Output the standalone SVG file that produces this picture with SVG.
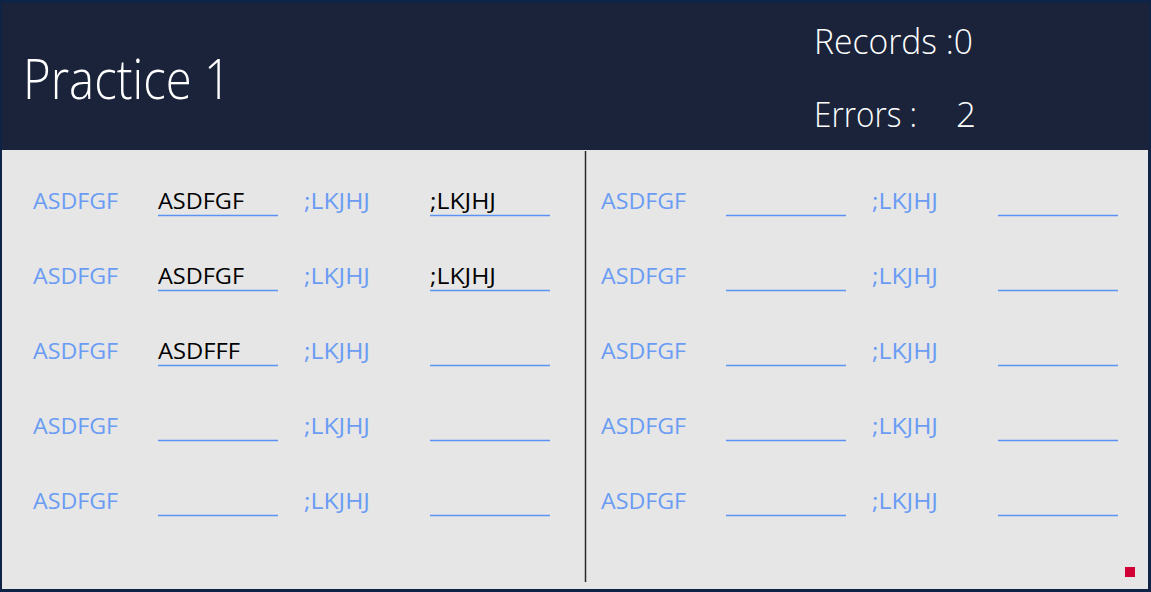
<svg xmlns="http://www.w3.org/2000/svg" width="1151" height="592" viewBox="0 0 1151 592">
<style>
.lbl{font-family:"Open Sans","Noto Sans",sans-serif;font-weight:400;font-size:21px;fill:#6a9cf4}
.val{font-family:"Open Sans","Noto Sans",sans-serif;font-weight:400;font-size:21px;fill:#000}
.hdr{font-family:"Open Sans","Noto Sans",sans-serif;font-weight:300;fill:#fff}
.ul{stroke:#5b93f3;stroke-width:1.3}
</style>
<rect x="0" y="0" width="1151" height="592" fill="#0f2347"/>
<rect x="2" y="3" width="1147" height="147" fill="#1a2339"/>
<rect x="2" y="150" width="1146" height="439" fill="#e6e6e6"/>
<g id="header">
<text class="hdr" x="23" y="99" font-size="56" textLength="208" lengthAdjust="spacingAndGlyphs">Practice 1</text>
<text class="hdr" x="814" y="54" font-size="35" textLength="159" lengthAdjust="spacingAndGlyphs">Records :0</text>
<text class="hdr" x="814" y="127" font-size="35"><tspan textLength="103" lengthAdjust="spacingAndGlyphs">Errors :</tspan><tspan x="956">2</tspan></text>
</g>
<g id="divider"><line x1="585.5" y1="151" x2="585.5" y2="582" stroke="#2b2b2b" stroke-width="1.5"/></g>
<g id="left">
<g id="r1l"><text class="lbl" x="33" y="209" textLength="85" lengthAdjust="spacingAndGlyphs">ASDFGF</text><text class="val" x="158" y="209" textLength="86" lengthAdjust="spacingAndGlyphs">ASDFGF</text><line class="ul" x1="158" y1="215.5" x2="278" y2="215.5"/><text class="lbl" x="304" y="209" textLength="66" lengthAdjust="spacingAndGlyphs">;LKJHJ</text><text class="val" x="430" y="209" textLength="66" lengthAdjust="spacingAndGlyphs">;LKJHJ</text><line class="ul" x1="430" y1="215.5" x2="550" y2="215.5"/></g>
<g id="r2l"><text class="lbl" x="33" y="284" textLength="85" lengthAdjust="spacingAndGlyphs">ASDFGF</text><text class="val" x="158" y="284" textLength="86" lengthAdjust="spacingAndGlyphs">ASDFGF</text><line class="ul" x1="158" y1="290.5" x2="278" y2="290.5"/><text class="lbl" x="304" y="284" textLength="66" lengthAdjust="spacingAndGlyphs">;LKJHJ</text><text class="val" x="430" y="284" textLength="66" lengthAdjust="spacingAndGlyphs">;LKJHJ</text><line class="ul" x1="430" y1="290.5" x2="550" y2="290.5"/></g>
<g id="r3l"><text class="lbl" x="33" y="359" textLength="85" lengthAdjust="spacingAndGlyphs">ASDFGF</text><text class="val" x="158" y="359" textLength="82" lengthAdjust="spacingAndGlyphs">ASDFFF</text><line class="ul" x1="158" y1="365.5" x2="278" y2="365.5"/><text class="lbl" x="304" y="359" textLength="66" lengthAdjust="spacingAndGlyphs">;LKJHJ</text><line class="ul" x1="430" y1="365.5" x2="550" y2="365.5"/></g>
<g id="r4l"><text class="lbl" x="33" y="434" textLength="85" lengthAdjust="spacingAndGlyphs">ASDFGF</text><line class="ul" x1="158" y1="440.5" x2="278" y2="440.5"/><text class="lbl" x="304" y="434" textLength="66" lengthAdjust="spacingAndGlyphs">;LKJHJ</text><line class="ul" x1="430" y1="440.5" x2="550" y2="440.5"/></g>
<g id="r5l"><text class="lbl" x="33" y="509" textLength="85" lengthAdjust="spacingAndGlyphs">ASDFGF</text><line class="ul" x1="158" y1="515.5" x2="278" y2="515.5"/><text class="lbl" x="304" y="509" textLength="66" lengthAdjust="spacingAndGlyphs">;LKJHJ</text><line class="ul" x1="430" y1="515.5" x2="550" y2="515.5"/></g>
</g>
<g id="right">
<g id="r1r"><text class="lbl" x="601" y="209" textLength="85" lengthAdjust="spacingAndGlyphs">ASDFGF</text><line class="ul" x1="726" y1="215.5" x2="846" y2="215.5"/><text class="lbl" x="872" y="209" textLength="66" lengthAdjust="spacingAndGlyphs">;LKJHJ</text><line class="ul" x1="998" y1="215.5" x2="1118" y2="215.5"/></g>
<g id="r2r"><text class="lbl" x="601" y="284" textLength="85" lengthAdjust="spacingAndGlyphs">ASDFGF</text><line class="ul" x1="726" y1="290.5" x2="846" y2="290.5"/><text class="lbl" x="872" y="284" textLength="66" lengthAdjust="spacingAndGlyphs">;LKJHJ</text><line class="ul" x1="998" y1="290.5" x2="1118" y2="290.5"/></g>
<g id="r3r"><text class="lbl" x="601" y="359" textLength="85" lengthAdjust="spacingAndGlyphs">ASDFGF</text><line class="ul" x1="726" y1="365.5" x2="846" y2="365.5"/><text class="lbl" x="872" y="359" textLength="66" lengthAdjust="spacingAndGlyphs">;LKJHJ</text><line class="ul" x1="998" y1="365.5" x2="1118" y2="365.5"/></g>
<g id="r4r"><text class="lbl" x="601" y="434" textLength="85" lengthAdjust="spacingAndGlyphs">ASDFGF</text><line class="ul" x1="726" y1="440.5" x2="846" y2="440.5"/><text class="lbl" x="872" y="434" textLength="66" lengthAdjust="spacingAndGlyphs">;LKJHJ</text><line class="ul" x1="998" y1="440.5" x2="1118" y2="440.5"/></g>
<g id="r5r"><text class="lbl" x="601" y="509" textLength="85" lengthAdjust="spacingAndGlyphs">ASDFGF</text><line class="ul" x1="726" y1="515.5" x2="846" y2="515.5"/><text class="lbl" x="872" y="509" textLength="66" lengthAdjust="spacingAndGlyphs">;LKJHJ</text><line class="ul" x1="998" y1="515.5" x2="1118" y2="515.5"/></g>
</g>
<g id="status"><rect x="1125" y="567" width="10" height="10" fill="#d10035"/></g>
</svg>
